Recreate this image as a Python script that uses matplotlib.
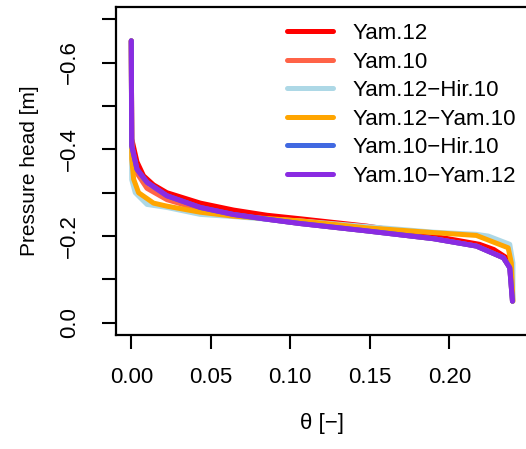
import matplotlib
matplotlib.use("Agg")
import matplotlib.pyplot as plt

plt.rcParams['font.family'] = ['Liberation Sans', 'DejaVu Sans']
plt.rcParams['axes.unicode_minus'] = True

# Water retention curves: volumetric water content vs pressure head
series_names = ["Yam.12", "Yam.10", "Yam.12\u2212Hir.10", "Yam.12\u2212Yam.10",
                "Yam.10\u2212Hir.10", "Yam.10\u2212Yam.12"]
series_colors = ["#FF0000", "#FF6347", "#ADD8E6", "#FFA500", "#4169E1", "#8A2BE2"]

theta_yam12 = [0.0, 0.0003, 0.0036, 0.0077, 0.014, 0.0224, 0.0434, 0.0643, 0.0853,
               0.106, 0.148, 0.190, 0.219, 0.228, 0.236, 0.239, 0.2398]
h_yam12 = [-0.65, -0.424, -0.371, -0.339, -0.318, -0.300, -0.276, -0.260, -0.248,
           -0.240, -0.223, -0.200, -0.181, -0.169, -0.150, -0.123, -0.05]

theta_yam10 = [0.0, 0.0003, 0.0036, 0.0099, 0.0224, 0.0434, 0.064, 0.085, 0.106,
               0.148, 0.190, 0.217, 0.234, 0.238, 0.2397]
h_yam10 = [-0.65, -0.410, -0.345, -0.310, -0.284, -0.261, -0.249, -0.239, -0.229,
           -0.212, -0.194, -0.177, -0.150, -0.127, -0.05]

theta_yam12_hir10 = [0.0, 0.0003, 0.0025, 0.0099, 0.0224, 0.0434, 0.064, 0.085, 0.106,
                     0.148, 0.190, 0.217, 0.2245, 0.238, 0.240, 0.2400]
h_yam12_hir10 = [-0.65, -0.33, -0.300, -0.273, -0.266, -0.250, -0.245, -0.239, -0.235,
                 -0.222, -0.209, -0.204, -0.200, -0.181, -0.138, -0.05]

theta_yam12_yam10 = [0.0, 0.0003, 0.0015, 0.0046, 0.014, 0.0224, 0.0434, 0.064, 0.106,
                     0.148, 0.190, 0.217, 0.237, 0.239, 0.2400]
h_yam12_yam10 = [-0.65, -0.378, -0.331, -0.300, -0.276, -0.269, -0.255, -0.246, -0.235,
                 -0.219, -0.208, -0.2015, -0.173, -0.138, -0.05]

theta_yam10_hir10 = [0.0, 0.0003, 0.0036, 0.0099, 0.0224, 0.0434, 0.064, 0.085, 0.106,
                     0.148, 0.190, 0.217, 0.234, 0.238, 0.2397]
h_yam10_hir10 = [-0.65, -0.408, -0.354, -0.324, -0.293, -0.266, -0.250, -0.239, -0.229,
                 -0.212, -0.194, -0.177, -0.150, -0.127, -0.05]

theta_yam10_yam12 = [0.0, 0.0003, 0.0036, 0.0099, 0.0224, 0.0434, 0.064, 0.085, 0.106,
                     0.148, 0.190, 0.217, 0.234, 0.238, 0.2397]
h_yam10_yam12 = [-0.65, -0.408, -0.354, -0.324, -0.293, -0.266, -0.250, -0.239, -0.229,
                 -0.212, -0.194, -0.177, -0.150, -0.127, -0.05]

all_theta = [theta_yam12, theta_yam10, theta_yam12_hir10, theta_yam12_yam10,
             theta_yam10_hir10, theta_yam10_yam12]
all_h = [h_yam12, h_yam10, h_yam12_hir10, h_yam12_yam10, h_yam10_hir10, h_yam10_yam12]

x_ticks = [0.00, 0.05, 0.10, 0.15, 0.20]
x_tick_labels = ["0.00", "0.05", "0.10", "0.15", "0.20"]
y_ticks = [-0.7, -0.6, -0.5, -0.4, -0.3, -0.2, -0.1, 0.0]
y_tick_labels = ["", "\u22120.6", "", "\u22120.4", "", "\u22120.2", "", "0.0"]

fig = plt.figure(figsize=(5.26, 4.49), dpi=100)
ax = fig.add_axes([116 / 526, 1 - 335 / 449, (528.2 - 116) / 526, (335 - 7) / 449])

for th, hh, name, col in zip(all_theta, all_h, series_names, series_colors):
    ax.plot(th, hh, color=col, lw=3.6, label=name,
            solid_capstyle='round', solid_joinstyle='round')

ax.set_xlim(-0.0096, 0.2496)
ax.set_ylim(0.028, -0.728)

ax.set_xticks(x_ticks)
ax.set_xticklabels(x_tick_labels)
ax.set_yticks(y_ticks)
ax.set_yticklabels(y_tick_labels, rotation=90, va='center')
ax.tick_params(axis='both', labelsize=16, length=10, width=1.5, direction='out',
               color='black')
ax.tick_params(axis='x', pad=13)
ax.tick_params(axis='y', pad=16)
for side in ['left', 'bottom', 'top', 'right']:
    ax.spines[side].set_linewidth(1.6)

ax.set_xlabel("\u03b8 [\u2212]", fontsize=16, labelpad=18)
ax.set_ylabel("Pressure head [m]", fontsize=15, labelpad=14)

leg = ax.legend(loc='upper left', bbox_to_anchor=(287 / 526, 1 - 23 / 449),
                bbox_transform=fig.transFigure, frameon=False, fontsize=16,
                handlelength=2.05, handletextpad=0.9, labelspacing=0.34,
                borderpad=0, borderaxespad=0)
for line in leg.get_lines():
    line.set_linewidth(3.6)

fig.savefig("out.png", dpi=100)
